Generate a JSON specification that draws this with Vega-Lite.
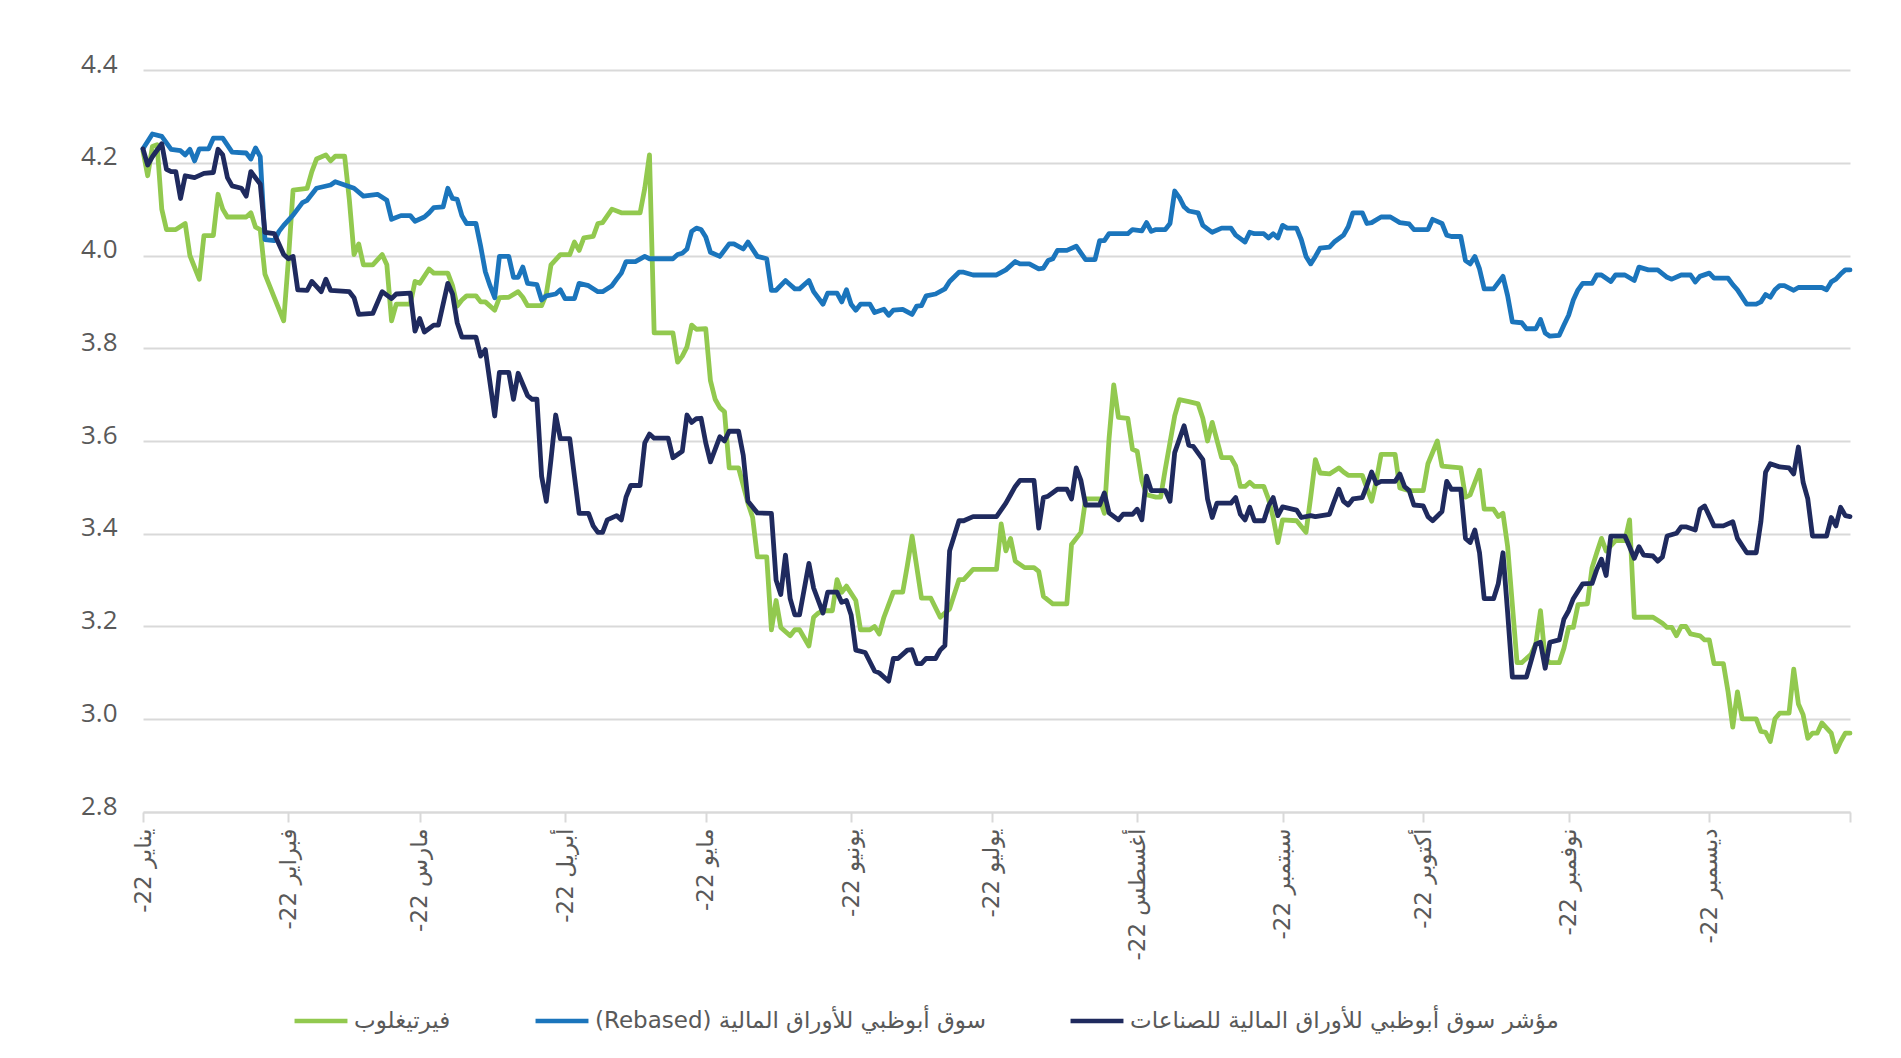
{
  "$schema": "https://vega.github.io/schema/vega-lite/v6.json",
  "autosize": {"type": "none"},
  "width": 1707,
  "height": 742,
  "padding": {"left": 143, "top": 70, "right": 51, "bottom": 246},
  "background": "white",
  "config": {"view": {"stroke": null}},
  "datasets": {
    "g": [
      {"d":"2022-01-01","v":4.226},{"d":"2022-01-02","v":4.172},{"d":"2022-01-03","v":4.235},{"d":"2022-01-04","v":4.239},{"d":"2022-01-05","v":4.1},{"d":"2022-01-06","v":4.056},{"d":"2022-01-08","v":4.056},{"d":"2022-01-10","v":4.069},{"d":"2022-01-11","v":4.0},{"d":"2022-01-13","v":3.949},{"d":"2022-01-14","v":4.043},{"d":"2022-01-16","v":4.043},{"d":"2022-01-17","v":4.132},{"d":"2022-01-18","v":4.1},{"d":"2022-01-19","v":4.083},{"d":"2022-01-23","v":4.083},{"d":"2022-01-24","v":4.092},{"d":"2022-01-25","v":4.061},{"d":"2022-01-26","v":4.056},{"d":"2022-01-27","v":3.96},{"d":"2022-01-29","v":3.909},{"d":"2022-01-31","v":3.859},{"d":"2022-02-01","v":3.99},{"d":"2022-02-02","v":4.141},{"d":"2022-02-05","v":4.145},{"d":"2022-02-06","v":4.181},{"d":"2022-02-07","v":4.208},{"d":"2022-02-09","v":4.217},{"d":"2022-02-10","v":4.204},{"d":"2022-02-11","v":4.214},{"d":"2022-02-13","v":4.214},{"d":"2022-02-14","v":4.12},{"d":"2022-02-15","v":4.002},{"d":"2022-02-16","v":4.025},{"d":"2022-02-17","v":3.98},{"d":"2022-02-19","v":3.98},{"d":"2022-02-21","v":4.002},{"d":"2022-02-22","v":3.98},{"d":"2022-02-23","v":3.859},{"d":"2022-02-24","v":3.895},{"d":"2022-02-27","v":3.895},{"d":"2022-02-28","v":3.944},{"d":"2022-03-01","v":3.94},{"d":"2022-03-03","v":3.971},{"d":"2022-03-04","v":3.962},{"d":"2022-03-07","v":3.962},{"d":"2022-03-08","v":3.935},{"d":"2022-03-09","v":3.891},{"d":"2022-03-10","v":3.904},{"d":"2022-03-11","v":3.913},{"d":"2022-03-13","v":3.913},{"d":"2022-03-14","v":3.9},{"d":"2022-03-15","v":3.9},{"d":"2022-03-17","v":3.882},{"d":"2022-03-18","v":3.909},{"d":"2022-03-20","v":3.91},{"d":"2022-03-22","v":3.922},{"d":"2022-03-23","v":3.91},{"d":"2022-03-24","v":3.892},{"d":"2022-03-27","v":3.892},{"d":"2022-03-28","v":3.917},{"d":"2022-03-29","v":3.98},{"d":"2022-03-31","v":4.002},{"d":"2022-04-02","v":4.002},{"d":"2022-04-03","v":4.029},{"d":"2022-04-04","v":4.011},{"d":"2022-04-05","v":4.038},{"d":"2022-04-07","v":4.041},{"d":"2022-04-08","v":4.069},{"d":"2022-04-09","v":4.071},{"d":"2022-04-11","v":4.1},{"d":"2022-04-13","v":4.092},{"d":"2022-04-17","v":4.092},{"d":"2022-04-18","v":4.145},{"d":"2022-04-19","v":4.217},{"d":"2022-04-20","v":3.833},{"d":"2022-04-24","v":3.833},{"d":"2022-04-25","v":3.77},{"d":"2022-04-26","v":3.783},{"d":"2022-04-27","v":3.803},{"d":"2022-04-28","v":3.85},{"d":"2022-04-29","v":3.841},{"d":"2022-05-01","v":3.842},{"d":"2022-05-02","v":3.73},{"d":"2022-05-03","v":3.69},{"d":"2022-05-04","v":3.672},{"d":"2022-05-05","v":3.663},{"d":"2022-05-06","v":3.542},{"d":"2022-05-08","v":3.542},{"d":"2022-05-10","v":3.466},{"d":"2022-05-11","v":3.435},{"d":"2022-05-12","v":3.35},{"d":"2022-05-14","v":3.35},{"d":"2022-05-15","v":3.193},{"d":"2022-05-16","v":3.256},{"d":"2022-05-17","v":3.198},{"d":"2022-05-19","v":3.18},{"d":"2022-05-20","v":3.193},{"d":"2022-05-21","v":3.193},{"d":"2022-05-23","v":3.158},{"d":"2022-05-24","v":3.22},{"d":"2022-05-25","v":3.229},{"d":"2022-05-26","v":3.234},{"d":"2022-05-28","v":3.234},{"d":"2022-05-29","v":3.301},{"d":"2022-05-30","v":3.274},{"d":"2022-05-31","v":3.287},{"d":"2022-06-02","v":3.256},{"d":"2022-06-03","v":3.193},{"d":"2022-06-05","v":3.193},{"d":"2022-06-06","v":3.2},{"d":"2022-06-07","v":3.184},{"d":"2022-06-08","v":3.22},{"d":"2022-06-10","v":3.274},{"d":"2022-06-12","v":3.274},{"d":"2022-06-13","v":3.332},{"d":"2022-06-14","v":3.395},{"d":"2022-06-16","v":3.261},{"d":"2022-06-18","v":3.261},{"d":"2022-06-20","v":3.22},{"d":"2022-06-22","v":3.238},{"d":"2022-06-24","v":3.301},{"d":"2022-06-25","v":3.301},{"d":"2022-06-27","v":3.323},{"d":"2022-07-02","v":3.323},{"d":"2022-07-03","v":3.421},{"d":"2022-07-04","v":3.363},{"d":"2022-07-05","v":3.39},{"d":"2022-07-06","v":3.341},{"d":"2022-07-08","v":3.327},{"d":"2022-07-10","v":3.327},{"d":"2022-07-11","v":3.319},{"d":"2022-07-12","v":3.265},{"d":"2022-07-14","v":3.249},{"d":"2022-07-17","v":3.249},{"d":"2022-07-18","v":3.377},{"d":"2022-07-20","v":3.403},{"d":"2022-07-21","v":3.475},{"d":"2022-07-24","v":3.475},{"d":"2022-07-25","v":3.444},{"d":"2022-07-26","v":3.605},{"d":"2022-07-27","v":3.721},{"d":"2022-07-28","v":3.651},{"d":"2022-07-30","v":3.649},{"d":"2022-07-31","v":3.582},{"d":"2022-08-01","v":3.578},{"d":"2022-08-02","v":3.515},{"d":"2022-08-03","v":3.484},{"d":"2022-08-05","v":3.479},{"d":"2022-08-06","v":3.479},{"d":"2022-08-07","v":3.54},{"d":"2022-08-09","v":3.654},{"d":"2022-08-10","v":3.689},{"d":"2022-08-12","v":3.685},{"d":"2022-08-14","v":3.68},{"d":"2022-08-15","v":3.649},{"d":"2022-08-16","v":3.6},{"d":"2022-08-17","v":3.64},{"d":"2022-08-19","v":3.564},{"d":"2022-08-21","v":3.564},{"d":"2022-08-22","v":3.546},{"d":"2022-08-23","v":3.502},{"d":"2022-08-24","v":3.502},{"d":"2022-08-25","v":3.511},{"d":"2022-08-26","v":3.502},{"d":"2022-08-28","v":3.502},{"d":"2022-08-29","v":3.475},{"d":"2022-08-30","v":3.435},{"d":"2022-08-31","v":3.381},{"d":"2022-09-01","v":3.43},{"d":"2022-09-04","v":3.428},{"d":"2022-09-06","v":3.403},{"d":"2022-09-07","v":3.479},{"d":"2022-09-08","v":3.56},{"d":"2022-09-09","v":3.531},{"d":"2022-09-11","v":3.529},{"d":"2022-09-13","v":3.542},{"d":"2022-09-14","v":3.533},{"d":"2022-09-15","v":3.526},{"d":"2022-09-18","v":3.526},{"d":"2022-09-20","v":3.47},{"d":"2022-09-21","v":3.515},{"d":"2022-09-22","v":3.571},{"d":"2022-09-25","v":3.571},{"d":"2022-09-26","v":3.499},{"d":"2022-09-28","v":3.493},{"d":"2022-10-01","v":3.493},{"d":"2022-10-02","v":3.551},{"d":"2022-10-04","v":3.6},{"d":"2022-10-05","v":3.546},{"d":"2022-10-09","v":3.542},{"d":"2022-10-10","v":3.479},{"d":"2022-10-11","v":3.484},{"d":"2022-10-13","v":3.537},{"d":"2022-10-14","v":3.453},{"d":"2022-10-16","v":3.453},{"d":"2022-10-17","v":3.437},{"d":"2022-10-18","v":3.444},{"d":"2022-10-19","v":3.372},{"d":"2022-10-21","v":3.122},{"d":"2022-10-22","v":3.122},{"d":"2022-10-24","v":3.14},{"d":"2022-10-25","v":3.162},{"d":"2022-10-26","v":3.234},{"d":"2022-10-27","v":3.13},{"d":"2022-10-28","v":3.122},{"d":"2022-10-30","v":3.122},{"d":"2022-10-31","v":3.153},{"d":"2022-11-01","v":3.198},{"d":"2022-11-02","v":3.198},{"d":"2022-11-03","v":3.247},{"d":"2022-11-05","v":3.249},{"d":"2022-11-06","v":3.327},{"d":"2022-11-07","v":3.359},{"d":"2022-11-08","v":3.39},{"d":"2022-11-09","v":3.363},{"d":"2022-11-11","v":3.385},{"d":"2022-11-13","v":3.385},{"d":"2022-11-14","v":3.43},{"d":"2022-11-15","v":3.22},{"d":"2022-11-19","v":3.22},{"d":"2022-11-21","v":3.207},{"d":"2022-11-22","v":3.198},{"d":"2022-11-23","v":3.198},{"d":"2022-11-24","v":3.18},{"d":"2022-11-25","v":3.2},{"d":"2022-11-26","v":3.2},{"d":"2022-11-27","v":3.184},{"d":"2022-11-29","v":3.18},{"d":"2022-11-30","v":3.171},{"d":"2022-12-01","v":3.171},{"d":"2022-12-02","v":3.12},{"d":"2022-12-04","v":3.12},{"d":"2022-12-05","v":3.059},{"d":"2022-12-06","v":2.983},{"d":"2022-12-07","v":3.059},{"d":"2022-12-08","v":3.001},{"d":"2022-12-11","v":3.001},{"d":"2022-12-12","v":2.974},{"d":"2022-12-13","v":2.972},{"d":"2022-12-14","v":2.952},{"d":"2022-12-15","v":3.001},{"d":"2022-12-16","v":3.013},{"d":"2022-12-18","v":3.013},{"d":"2022-12-19","v":3.108},{"d":"2022-12-20","v":3.033},{"d":"2022-12-21","v":3.01},{"d":"2022-12-22","v":2.959},{"d":"2022-12-23","v":2.97},{"d":"2022-12-24","v":2.97},{"d":"2022-12-25","v":2.992},{"d":"2022-12-27","v":2.97},{"d":"2022-12-28","v":2.93},{"d":"2022-12-29","v":2.952},{"d":"2022-12-30","v":2.97},{"d":"2022-12-31","v":2.97}
    ],
    "b": [
      {"d":"2022-01-01","v":4.23},{"d":"2022-01-03","v":4.262},{"d":"2022-01-05","v":4.257},{"d":"2022-01-07","v":4.229},{"d":"2022-01-09","v":4.226},{"d":"2022-01-10","v":4.217},{"d":"2022-01-11","v":4.229},{"d":"2022-01-12","v":4.204},{"d":"2022-01-13","v":4.23},{"d":"2022-01-15","v":4.23},{"d":"2022-01-16","v":4.253},{"d":"2022-01-18","v":4.253},{"d":"2022-01-20","v":4.223},{"d":"2022-01-23","v":4.221},{"d":"2022-01-24","v":4.208},{"d":"2022-01-25","v":4.232},{"d":"2022-01-26","v":4.213},{"d":"2022-01-27","v":4.034},{"d":"2022-01-29","v":4.032},{"d":"2022-01-30","v":4.052},{"d":"2022-01-31","v":4.065},{"d":"2022-02-02","v":4.087},{"d":"2022-02-04","v":4.114},{"d":"2022-02-05","v":4.119},{"d":"2022-02-07","v":4.145},{"d":"2022-02-10","v":4.152},{"d":"2022-02-11","v":4.159},{"d":"2022-02-13","v":4.152},{"d":"2022-02-15","v":4.145},{"d":"2022-02-17","v":4.128},{"d":"2022-02-20","v":4.132},{"d":"2022-02-22","v":4.119},{"d":"2022-02-23","v":4.078},{"d":"2022-02-25","v":4.086},{"d":"2022-02-27","v":4.086},{"d":"2022-02-28","v":4.074},{"d":"2022-03-02","v":4.083},{"d":"2022-03-03","v":4.092},{"d":"2022-03-04","v":4.103},{"d":"2022-03-06","v":4.105},{"d":"2022-03-07","v":4.145},{"d":"2022-03-08","v":4.123},{"d":"2022-03-09","v":4.121},{"d":"2022-03-10","v":4.086},{"d":"2022-03-11","v":4.069},{"d":"2022-03-13","v":4.069},{"d":"2022-03-14","v":4.02},{"d":"2022-03-15","v":3.965},{"d":"2022-03-16","v":3.935},{"d":"2022-03-17","v":3.909},{"d":"2022-03-18","v":3.998},{"d":"2022-03-20","v":3.998},{"d":"2022-03-21","v":3.953},{"d":"2022-03-22","v":3.953},{"d":"2022-03-23","v":3.975},{"d":"2022-03-24","v":3.94},{"d":"2022-03-26","v":3.937},{"d":"2022-03-27","v":3.904},{"d":"2022-03-28","v":3.913},{"d":"2022-03-30","v":3.917},{"d":"2022-03-31","v":3.926},{"d":"2022-04-01","v":3.907},{"d":"2022-04-03","v":3.907},{"d":"2022-04-04","v":3.94},{"d":"2022-04-06","v":3.935},{"d":"2022-04-08","v":3.922},{"d":"2022-04-09","v":3.922},{"d":"2022-04-11","v":3.935},{"d":"2022-04-12","v":3.949},{"d":"2022-04-13","v":3.962},{"d":"2022-04-14","v":3.987},{"d":"2022-04-16","v":3.987},{"d":"2022-04-18","v":3.998},{"d":"2022-04-19","v":3.993},{"d":"2022-04-24","v":3.993},{"d":"2022-04-25","v":4.002},{"d":"2022-04-26","v":4.005},{"d":"2022-04-27","v":4.014},{"d":"2022-04-28","v":4.052},{"d":"2022-04-29","v":4.059},{"d":"2022-04-30","v":4.056},{"d":"2022-05-01","v":4.04},{"d":"2022-05-02","v":4.007},{"d":"2022-05-04","v":3.998},{"d":"2022-05-06","v":4.025},{"d":"2022-05-07","v":4.025},{"d":"2022-05-09","v":4.014},{"d":"2022-05-10","v":4.029},{"d":"2022-05-12","v":3.998},{"d":"2022-05-14","v":3.993},{"d":"2022-05-15","v":3.925},{"d":"2022-05-16","v":3.925},{"d":"2022-05-18","v":3.946},{"d":"2022-05-19","v":3.937},{"d":"2022-05-20","v":3.928},{"d":"2022-05-21","v":3.928},{"d":"2022-05-23","v":3.946},{"d":"2022-05-24","v":3.922},{"d":"2022-05-26","v":3.895},{"d":"2022-05-27","v":3.919},{"d":"2022-05-29","v":3.919},{"d":"2022-05-30","v":3.9},{"d":"2022-05-31","v":3.926},{"d":"2022-06-01","v":3.895},{"d":"2022-06-02","v":3.882},{"d":"2022-06-03","v":3.895},{"d":"2022-06-05","v":3.895},{"d":"2022-06-06","v":3.877},{"d":"2022-06-08","v":3.884},{"d":"2022-06-09","v":3.871},{"d":"2022-06-10","v":3.882},{"d":"2022-06-12","v":3.884},{"d":"2022-06-14","v":3.873},{"d":"2022-06-15","v":3.891},{"d":"2022-06-16","v":3.892},{"d":"2022-06-17","v":3.913},{"d":"2022-06-19","v":3.917},{"d":"2022-06-21","v":3.928},{"d":"2022-06-22","v":3.944},{"d":"2022-06-24","v":3.964},{"d":"2022-06-25","v":3.964},{"d":"2022-06-27","v":3.958},{"d":"2022-07-01","v":3.958},{"d":"2022-07-02","v":3.958},{"d":"2022-07-04","v":3.969},{"d":"2022-07-06","v":3.987},{"d":"2022-07-07","v":3.982},{"d":"2022-07-09","v":3.982},{"d":"2022-07-11","v":3.971},{"d":"2022-07-12","v":3.973},{"d":"2022-07-13","v":3.989},{"d":"2022-07-14","v":3.993},{"d":"2022-07-15","v":4.011},{"d":"2022-07-17","v":4.011},{"d":"2022-07-19","v":4.02},{"d":"2022-07-21","v":3.991},{"d":"2022-07-23","v":3.991},{"d":"2022-07-24","v":4.032},{"d":"2022-07-25","v":4.032},{"d":"2022-07-26","v":4.047},{"d":"2022-07-30","v":4.047},{"d":"2022-07-31","v":4.056},{"d":"2022-08-02","v":4.053},{"d":"2022-08-03","v":4.071},{"d":"2022-08-04","v":4.052},{"d":"2022-08-05","v":4.056},{"d":"2022-08-07","v":4.056},{"d":"2022-08-08","v":4.069},{"d":"2022-08-09","v":4.139},{"d":"2022-08-10","v":4.125},{"d":"2022-08-11","v":4.105},{"d":"2022-08-12","v":4.096},{"d":"2022-08-14","v":4.092},{"d":"2022-08-15","v":4.065},{"d":"2022-08-17","v":4.05},{"d":"2022-08-19","v":4.059},{"d":"2022-08-21","v":4.059},{"d":"2022-08-22","v":4.044},{"d":"2022-08-24","v":4.029},{"d":"2022-08-25","v":4.05},{"d":"2022-08-26","v":4.047},{"d":"2022-08-28","v":4.047},{"d":"2022-08-29","v":4.038},{"d":"2022-08-30","v":4.047},{"d":"2022-08-31","v":4.038},{"d":"2022-09-01","v":4.065},{"d":"2022-09-02","v":4.059},{"d":"2022-09-04","v":4.059},{"d":"2022-09-05","v":4.034},{"d":"2022-09-06","v":3.998},{"d":"2022-09-07","v":3.982},{"d":"2022-09-08","v":3.998},{"d":"2022-09-09","v":4.016},{"d":"2022-09-11","v":4.018},{"d":"2022-09-12","v":4.029},{"d":"2022-09-14","v":4.044},{"d":"2022-09-15","v":4.062},{"d":"2022-09-16","v":4.092},{"d":"2022-09-18","v":4.092},{"d":"2022-09-19","v":4.069},{"d":"2022-09-20","v":4.071},{"d":"2022-09-22","v":4.083},{"d":"2022-09-24","v":4.083},{"d":"2022-09-26","v":4.071},{"d":"2022-09-28","v":4.068},{"d":"2022-09-29","v":4.056},{"d":"2022-10-02","v":4.056},{"d":"2022-10-03","v":4.078},{"d":"2022-10-05","v":4.069},{"d":"2022-10-06","v":4.044},{"d":"2022-10-07","v":4.041},{"d":"2022-10-09","v":4.041},{"d":"2022-10-10","v":3.989},{"d":"2022-10-11","v":3.982},{"d":"2022-10-12","v":3.998},{"d":"2022-10-13","v":3.971},{"d":"2022-10-14","v":3.928},{"d":"2022-10-16","v":3.928},{"d":"2022-10-18","v":3.955},{"d":"2022-10-19","v":3.913},{"d":"2022-10-20","v":3.857},{"d":"2022-10-22","v":3.855},{"d":"2022-10-23","v":3.842},{"d":"2022-10-25","v":3.842},{"d":"2022-10-26","v":3.862},{"d":"2022-10-27","v":3.833},{"d":"2022-10-28","v":3.826},{"d":"2022-10-30","v":3.828},{"d":"2022-10-31","v":3.85},{"d":"2022-11-01","v":3.871},{"d":"2022-11-02","v":3.904},{"d":"2022-11-03","v":3.926},{"d":"2022-11-04","v":3.94},{"d":"2022-11-06","v":3.94},{"d":"2022-11-07","v":3.958},{"d":"2022-11-08","v":3.958},{"d":"2022-11-10","v":3.944},{"d":"2022-11-11","v":3.958},{"d":"2022-11-13","v":3.958},{"d":"2022-11-15","v":3.946},{"d":"2022-11-16","v":3.975},{"d":"2022-11-18","v":3.969},{"d":"2022-11-20","v":3.969},{"d":"2022-11-22","v":3.953},{"d":"2022-11-23","v":3.949},{"d":"2022-11-25","v":3.958},{"d":"2022-11-27","v":3.958},{"d":"2022-11-28","v":3.943},{"d":"2022-11-29","v":3.955},{"d":"2022-12-01","v":3.962},{"d":"2022-12-02","v":3.951},{"d":"2022-12-05","v":3.951},{"d":"2022-12-06","v":3.937},{"d":"2022-12-07","v":3.926},{"d":"2022-12-09","v":3.895},{"d":"2022-12-11","v":3.895},{"d":"2022-12-12","v":3.9},{"d":"2022-12-13","v":3.916},{"d":"2022-12-14","v":3.91},{"d":"2022-12-15","v":3.926},{"d":"2022-12-16","v":3.935},{"d":"2022-12-17","v":3.935},{"d":"2022-12-19","v":3.925},{"d":"2022-12-20","v":3.931},{"d":"2022-12-25","v":3.931},{"d":"2022-12-26","v":3.926},{"d":"2022-12-27","v":3.943},{"d":"2022-12-28","v":3.949},{"d":"2022-12-29","v":3.96},{"d":"2022-12-30","v":3.969},{"d":"2022-12-31","v":3.969}
    ],
    "n": [
      {"d":"2022-01-01","v":4.23},{"d":"2022-01-02","v":4.195},{"d":"2022-01-03","v":4.213},{"d":"2022-01-05","v":4.241},{"d":"2022-01-06","v":4.186},{"d":"2022-01-07","v":4.181},{"d":"2022-01-08","v":4.181},{"d":"2022-01-09","v":4.123},{"d":"2022-01-10","v":4.172},{"d":"2022-01-12","v":4.168},{"d":"2022-01-14","v":4.177},{"d":"2022-01-16","v":4.179},{"d":"2022-01-17","v":4.229},{"d":"2022-01-18","v":4.217},{"d":"2022-01-19","v":4.168},{"d":"2022-01-20","v":4.15},{"d":"2022-01-22","v":4.145},{"d":"2022-01-23","v":4.128},{"d":"2022-01-24","v":4.181},{"d":"2022-01-26","v":4.154},{"d":"2022-01-27","v":4.05},{"d":"2022-01-29","v":4.047},{"d":"2022-01-31","v":4.002},{"d":"2022-02-01","v":3.993},{"d":"2022-02-02","v":3.998},{"d":"2022-02-03","v":3.926},{"d":"2022-02-05","v":3.925},{"d":"2022-02-06","v":3.944},{"d":"2022-02-08","v":3.922},{"d":"2022-02-09","v":3.949},{"d":"2022-02-10","v":3.925},{"d":"2022-02-14","v":3.922},{"d":"2022-02-15","v":3.909},{"d":"2022-02-16","v":3.873},{"d":"2022-02-19","v":3.875},{"d":"2022-02-21","v":3.922},{"d":"2022-02-23","v":3.907},{"d":"2022-02-24","v":3.917},{"d":"2022-02-27","v":3.919},{"d":"2022-02-28","v":3.837},{"d":"2022-03-01","v":3.864},{"d":"2022-03-02","v":3.835},{"d":"2022-03-04","v":3.85},{"d":"2022-03-05","v":3.85},{"d":"2022-03-07","v":3.94},{"d":"2022-03-08","v":3.917},{"d":"2022-03-09","v":3.855},{"d":"2022-03-10","v":3.824},{"d":"2022-03-13","v":3.824},{"d":"2022-03-14","v":3.783},{"d":"2022-03-15","v":3.797},{"d":"2022-03-17","v":3.654},{"d":"2022-03-18","v":3.748},{"d":"2022-03-20","v":3.748},{"d":"2022-03-21","v":3.69},{"d":"2022-03-22","v":3.746},{"d":"2022-03-24","v":3.698},{"d":"2022-03-25","v":3.69},{"d":"2022-03-26","v":3.69},{"d":"2022-03-27","v":3.524},{"d":"2022-03-28","v":3.47},{"d":"2022-03-29","v":3.56},{"d":"2022-03-30","v":3.656},{"d":"2022-03-31","v":3.605},{"d":"2022-04-02","v":3.605},{"d":"2022-04-03","v":3.524},{"d":"2022-04-04","v":3.444},{"d":"2022-04-06","v":3.444},{"d":"2022-04-07","v":3.417},{"d":"2022-04-08","v":3.403},{"d":"2022-04-09","v":3.403},{"d":"2022-04-10","v":3.43},{"d":"2022-04-12","v":3.439},{"d":"2022-04-13","v":3.43},{"d":"2022-04-14","v":3.479},{"d":"2022-04-15","v":3.504},{"d":"2022-04-17","v":3.504},{"d":"2022-04-18","v":3.596},{"d":"2022-04-19","v":3.615},{"d":"2022-04-20","v":3.606},{"d":"2022-04-23","v":3.606},{"d":"2022-04-24","v":3.564},{"d":"2022-04-26","v":3.578},{"d":"2022-04-27","v":3.656},{"d":"2022-04-28","v":3.64},{"d":"2022-04-29","v":3.648},{"d":"2022-04-30","v":3.649},{"d":"2022-05-01","v":3.596},{"d":"2022-05-02","v":3.555},{"d":"2022-05-04","v":3.609},{"d":"2022-05-05","v":3.6},{"d":"2022-05-06","v":3.621},{"d":"2022-05-08","v":3.621},{"d":"2022-05-09","v":3.569},{"d":"2022-05-10","v":3.47},{"d":"2022-05-12","v":3.445},{"d":"2022-05-15","v":3.444},{"d":"2022-05-16","v":3.3},{"d":"2022-05-17","v":3.269},{"d":"2022-05-18","v":3.354},{"d":"2022-05-19","v":3.26},{"d":"2022-05-20","v":3.225},{"d":"2022-05-21","v":3.225},{"d":"2022-05-23","v":3.336},{"d":"2022-05-24","v":3.283},{"d":"2022-05-26","v":3.229},{"d":"2022-05-27","v":3.274},{"d":"2022-05-29","v":3.274},{"d":"2022-05-30","v":3.252},{"d":"2022-05-31","v":3.256},{"d":"2022-06-01","v":3.225},{"d":"2022-06-02","v":3.149},{"d":"2022-06-04","v":3.144},{"d":"2022-06-06","v":3.104},{"d":"2022-06-07","v":3.1},{"d":"2022-06-09","v":3.082},{"d":"2022-06-10","v":3.131},{"d":"2022-06-11","v":3.131},{"d":"2022-06-13","v":3.149},{"d":"2022-06-14","v":3.15},{"d":"2022-06-15","v":3.12},{"d":"2022-06-16","v":3.12},{"d":"2022-06-17","v":3.131},{"d":"2022-06-19","v":3.131},{"d":"2022-06-20","v":3.149},{"d":"2022-06-21","v":3.159},{"d":"2022-06-22","v":3.363},{"d":"2022-06-24","v":3.428},{"d":"2022-06-25","v":3.428},{"d":"2022-06-27","v":3.437},{"d":"2022-07-02","v":3.437},{"d":"2022-07-04","v":3.466},{"d":"2022-07-05","v":3.484},{"d":"2022-07-06","v":3.502},{"d":"2022-07-07","v":3.515},{"d":"2022-07-10","v":3.515},{"d":"2022-07-11","v":3.412},{"d":"2022-07-12","v":3.478},{"d":"2022-07-13","v":3.481},{"d":"2022-07-15","v":3.496},{"d":"2022-07-17","v":3.496},{"d":"2022-07-18","v":3.475},{"d":"2022-07-19","v":3.542},{"d":"2022-07-20","v":3.515},{"d":"2022-07-21","v":3.462},{"d":"2022-07-24","v":3.462},{"d":"2022-07-25","v":3.488},{"d":"2022-07-26","v":3.445},{"d":"2022-07-28","v":3.43},{"d":"2022-07-29","v":3.442},{"d":"2022-07-31","v":3.442},{"d":"2022-08-01","v":3.453},{"d":"2022-08-02","v":3.43},{"d":"2022-08-03","v":3.524},{"d":"2022-08-04","v":3.493},{"d":"2022-08-07","v":3.493},{"d":"2022-08-08","v":3.47},{"d":"2022-08-09","v":3.575},{"d":"2022-08-11","v":3.633},{"d":"2022-08-12","v":3.591},{"d":"2022-08-13","v":3.588},{"d":"2022-08-15","v":3.56},{"d":"2022-08-16","v":3.475},{"d":"2022-08-17","v":3.435},{"d":"2022-08-18","v":3.466},{"d":"2022-08-21","v":3.466},{"d":"2022-08-22","v":3.478},{"d":"2022-08-23","v":3.442},{"d":"2022-08-24","v":3.43},{"d":"2022-08-25","v":3.457},{"d":"2022-08-26","v":3.428},{"d":"2022-08-28","v":3.428},{"d":"2022-08-29","v":3.46},{"d":"2022-08-30","v":3.478},{"d":"2022-08-31","v":3.439},{"d":"2022-09-01","v":3.458},{"d":"2022-09-04","v":3.451},{"d":"2022-09-05","v":3.435},{"d":"2022-09-07","v":3.439},{"d":"2022-09-08","v":3.437},{"d":"2022-09-11","v":3.442},{"d":"2022-09-12","v":3.47},{"d":"2022-09-13","v":3.496},{"d":"2022-09-14","v":3.47},{"d":"2022-09-15","v":3.462},{"d":"2022-09-16","v":3.475},{"d":"2022-09-18","v":3.478},{"d":"2022-09-19","v":3.504},{"d":"2022-09-20","v":3.533},{"d":"2022-09-21","v":3.508},{"d":"2022-09-22","v":3.513},{"d":"2022-09-25","v":3.513},{"d":"2022-09-26","v":3.529},{"d":"2022-09-27","v":3.502},{"d":"2022-09-28","v":3.493},{"d":"2022-09-29","v":3.462},{"d":"2022-10-01","v":3.46},{"d":"2022-10-02","v":3.437},{"d":"2022-10-03","v":3.428},{"d":"2022-10-05","v":3.448},{"d":"2022-10-06","v":3.513},{"d":"2022-10-07","v":3.496},{"d":"2022-10-09","v":3.496},{"d":"2022-10-10","v":3.39},{"d":"2022-10-11","v":3.381},{"d":"2022-10-12","v":3.408},{"d":"2022-10-13","v":3.359},{"d":"2022-10-14","v":3.26},{"d":"2022-10-16","v":3.26},{"d":"2022-10-17","v":3.292},{"d":"2022-10-18","v":3.359},{"d":"2022-10-19","v":3.229},{"d":"2022-10-20","v":3.091},{"d":"2022-10-23","v":3.091},{"d":"2022-10-24","v":3.126},{"d":"2022-10-25","v":3.162},{"d":"2022-10-26","v":3.166},{"d":"2022-10-27","v":3.11},{"d":"2022-10-28","v":3.166},{"d":"2022-10-30","v":3.171},{"d":"2022-10-31","v":3.216},{"d":"2022-11-01","v":3.234},{"d":"2022-11-02","v":3.26},{"d":"2022-11-04","v":3.292},{"d":"2022-11-06","v":3.293},{"d":"2022-11-07","v":3.323},{"d":"2022-11-08","v":3.345},{"d":"2022-11-09","v":3.31},{"d":"2022-11-10","v":3.395},{"d":"2022-11-13","v":3.395},{"d":"2022-11-14","v":3.372},{"d":"2022-11-15","v":3.347},{"d":"2022-11-16","v":3.372},{"d":"2022-11-17","v":3.354},{"d":"2022-11-19","v":3.352},{"d":"2022-11-20","v":3.341},{"d":"2022-11-21","v":3.35},{"d":"2022-11-22","v":3.395},{"d":"2022-11-24","v":3.401},{"d":"2022-11-25","v":3.415},{"d":"2022-11-26","v":3.415},{"d":"2022-11-28","v":3.408},{"d":"2022-11-29","v":3.453},{"d":"2022-11-30","v":3.46},{"d":"2022-12-02","v":3.417},{"d":"2022-12-04","v":3.417},{"d":"2022-12-06","v":3.426},{"d":"2022-12-07","v":3.39},{"d":"2022-12-09","v":3.359},{"d":"2022-12-11","v":3.359},{"d":"2022-12-12","v":3.426},{"d":"2022-12-13","v":3.533},{"d":"2022-12-14","v":3.551},{"d":"2022-12-16","v":3.544},{"d":"2022-12-18","v":3.542},{"d":"2022-12-19","v":3.529},{"d":"2022-12-20","v":3.587},{"d":"2022-12-21","v":3.511},{"d":"2022-12-22","v":3.475},{"d":"2022-12-23","v":3.395},{"d":"2022-12-26","v":3.395},{"d":"2022-12-27","v":3.435},{"d":"2022-12-28","v":3.417},{"d":"2022-12-29","v":3.457},{"d":"2022-12-30","v":3.439},{"d":"2022-12-31","v":3.437}
    ]
  },
  "encoding": {
    "x": {
      "field": "d",
      "type": "temporal",
      "scale": {"type": "utc", "domain": [{"year": 2022, "month": 1, "date": 1, "utc": true}, {"year": 2022, "month": 12, "date": 31, "utc": true}], "nice": false},
      "axis": {
        "title": null,
        "values": [
          {"year": 2022, "month": 1, "date": 1, "utc": true},
          {"year": 2022, "month": 2, "date": 1, "utc": true},
          {"year": 2022, "month": 3, "date": 1, "utc": true},
          {"year": 2022, "month": 4, "date": 1, "utc": true},
          {"year": 2022, "month": 5, "date": 1, "utc": true},
          {"year": 2022, "month": 6, "date": 1, "utc": true},
          {"year": 2022, "month": 7, "date": 1, "utc": true},
          {"year": 2022, "month": 8, "date": 1, "utc": true},
          {"year": 2022, "month": 9, "date": 1, "utc": true},
          {"year": 2022, "month": 10, "date": 1, "utc": true},
          {"year": 2022, "month": 11, "date": 1, "utc": true},
          {"year": 2022, "month": 12, "date": 1, "utc": true},
          {"year": 2022, "month": 12, "date": 31, "utc": true}
        ],
        "labelExpr": "utcdate(datum.value) != 1 ? '' : '-22 ' + ['يناير','فبراير','مارس','أبريل','مايو','يونيو','يوليو','أغسطس','سبتمبر','أكتوبر','نوفمبر','ديسمبر'][utcmonth(datum.value)]",
        "labelAngle": 270,
        "labelFontSize": 23,
        "labelFont": "DejaVu Sans",
        "labelColor": "#595959",
        "labelPadding": 6,
        "labelOverlap": false,
        "labelFlush": false,
        "grid": false,
        "domain": true,
        "domainColor": "#d9d9d9",
        "domainWidth": 2,
        "ticks": true,
        "tickColor": "#d9d9d9",
        "tickWidth": 2,
        "tickSize": 10
      }
    },
    "y": {
      "field": "v",
      "type": "quantitative",
      "scale": {"domain": [2.8, 4.4], "nice": false, "zero": false},
      "axis": {
        "title": null,
        "values": [2.8, 3.0, 3.2, 3.4, 3.6, 3.8, 4.0, 4.2, 4.4],
        "format": ".1f",
        "labelFontSize": 26,
        "labelFont": "Open Sans",
        "labelColor": "#595959",
        "labelPadding": 26,
        "labelOffset": -6,
        "ticks": false,
        "domain": false,
        "grid": true,
        "gridColor": "#d9d9d9",
        "gridWidth": 2
      }
    }
  },
  "layer": [
    {
      "data": {"name": "g"},
      "mark": {"type": "line", "strokeWidth": 4.8, "strokeJoin": "round", "strokeCap": "round"},
      "encoding": {
        "color": {
          "datum": "فيرتيغلوب",
          "scale": {"domain": ["فيرتيغلوب", "(Rebased) سوق أبوظبي للأوراق المالية", "مؤشر سوق أبوظبي للأوراق المالية للصناعات"], "range": ["#92C94F", "#1B75BC", "#1F2A5E"]},
          "legend": {
            "title": null,
            "orient": "none",
            "legendX": 149,
            "legendY": 922,
            "direction": "horizontal",
            "columns": 3,
            "symbolType": "stroke",
            "symbolSize": 2800,
            "symbolStrokeWidth": 4.5,
            "labelFontSize": 23,
            "labelFont": "DejaVu Sans",
            "labelColor": "#595959",
            "labelOffset": 4,
            "columnPadding": 75,
            "labelLimit": 700
          }
        }
      }
    },
    {
      "data": {"name": "b"},
      "mark": {"type": "line", "strokeWidth": 4.8, "strokeJoin": "round", "strokeCap": "round"},
      "encoding": {
        "color": {
          "datum": "(Rebased) سوق أبوظبي للأوراق المالية",
          "scale": {"domain": ["فيرتيغلوب", "(Rebased) سوق أبوظبي للأوراق المالية", "مؤشر سوق أبوظبي للأوراق المالية للصناعات"], "range": ["#92C94F", "#1B75BC", "#1F2A5E"]}
        }
      }
    },
    {
      "data": {"name": "n"},
      "mark": {"type": "line", "strokeWidth": 4.8, "strokeJoin": "round", "strokeCap": "round"},
      "encoding": {
        "color": {
          "datum": "مؤشر سوق أبوظبي للأوراق المالية للصناعات",
          "scale": {"domain": ["فيرتيغلوب", "(Rebased) سوق أبوظبي للأوراق المالية", "مؤشر سوق أبوظبي للأوراق المالية للصناعات"], "range": ["#92C94F", "#1B75BC", "#1F2A5E"]}
        }
      }
    }
  ]
}
